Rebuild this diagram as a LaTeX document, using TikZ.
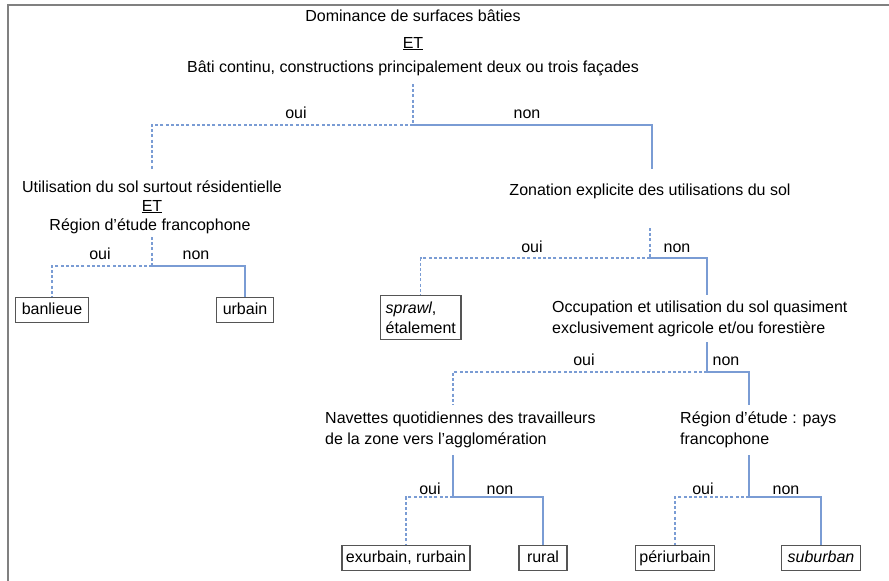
\documentclass[tikz,border=0pt]{standalone}
\usepackage{fontspec}
\setmainfont{Liberation Sans}
\definecolor{lineblue}{RGB}{122,156,212}
\definecolor{boxgray}{RGB}{85,85,85}
\definecolor{framegray}{RGB}{128,128,128}
\begin{document}
\begin{tikzpicture}[x=1pt,y=-1pt,
  lbl/.style={inner sep=0pt,anchor=base,font=\fontsize{16}{20}\selectfont},
  mlbl/.style={inner sep=0pt,anchor=north west,align=left,font=\fontsize{16}{21}\selectfont},
  yesline/.style={draw=lineblue,line width=1.2pt,dash pattern=on 3pt off 2.2pt},
  noline/.style={draw=lineblue,line width=1.2pt},
  leaf/.style={draw=boxgray,line width=1.3pt,inner xsep=6pt,inner ysep=5pt,
    text height=11.5pt,text depth=3.5pt,font=\fontsize{16}{20}\selectfont},
  leaf2/.style={draw=boxgray,line width=1.3pt,inner xsep=5pt,inner ysep=6pt,
    align=left,font=\fontsize{16}{20}\selectfont}]
\useasboundingbox (0,0) rectangle (889,581);
\draw[framegray,line width=2pt] (7.5,581) -- (7.5,5) -- (889,5);

% level 1
\node[lbl] (t1) at (413,21) {Dominance de surfaces bâties};
\node[lbl] (t2) at (413,48) {\underline{ET}};
\node[lbl] (t3) at (413,72) {Bâti continu, constructions principalement deux ou trois façades};
\coordinate (s1) at (413,84);
\coordinate (j1) at (413,125);
\node[lbl] (oui1) at (296,118) {oui};
\node[lbl] (non1) at (527,118) {non};
\coordinate (e1a) at (152,169);
\coordinate (e1b) at (652,169);
\draw[yesline] (s1) -- (j1);
\draw[yesline] (j1) -| (e1a);
\draw[noline] (j1) -| (e1b);

% left branch
\node[lbl] (t4) at (152,192) {Utilisation du sol surtout résidentielle};
\node[lbl] (t5) at (152,211) {\underline{ET}};
\node[lbl] (t6) at (150,230) {Région d’étude francophone};
\coordinate (s2) at (152,237);
\coordinate (j2) at (152,266);
\node[lbl] (oui2) at (100,259) {oui};
\node[lbl] (non2) at (196,259) {non};
\node[leaf] (banlieue) at (52,310) {banlieue};
\node[leaf] (urbain) at (245,310) {urbain};
\draw[yesline] (s2) -- (j2);
\draw[yesline] (j2) -| (banlieue.north);
\draw[noline] (j2) -| (urbain.north);

% right branch
\node[lbl] (t7) at (650,195) {Zonation explicite des utilisations du sol};
\coordinate (s3) at (650,228);
\coordinate (j3) at (650,258);
\node[lbl] (oui3) at (532,252) {oui};
\node[lbl] (non3) at (677,252) {non};
\node[leaf2,anchor=north west] (sprawl) at (380,295) {\textit{sprawl},\\étalement};
\coordinate (e3b) at (707,295);
\draw[yesline] (s3) -- (j3);
\draw[yesline] (j3) -| (sprawl.north);
\draw[noline] (j3) -| (e3b);

\node[mlbl] (t8) at (552,301) {Occupation et utilisation du sol quasiment\\exclusivement agricole et/ou forestière};
\coordinate (s4) at (707,342);
\coordinate (j4) at (707,372);
\node[lbl] (oui4) at (584,365) {oui};
\node[lbl] (non4) at (726,365) {non};
\coordinate (e4a) at (453,405);
\coordinate (e4b) at (749,405);
\draw[noline] (s4) -- (j4);
\draw[yesline] (j4) -| (e4a);
\draw[noline] (j4) -| (e4b);

% Navettes
\node[mlbl] (t9) at (325,412) {Navettes quotidiennes des travailleurs\\de la zone vers l’agglomération};
\coordinate (s5) at (453,455);
\coordinate (j5) at (453,497);
\node[lbl] (oui5) at (430,494) {oui};
\node[lbl] (non5) at (500,494) {non};
\node[leaf,inner xsep=4pt] (exurbain) at (406,558) {exurbain, rurbain};
\node[leaf,inner xsep=8pt] (rural) at (543,558) {rural};
\draw[noline] (s5) -- (j5);
\draw[yesline] (j5) -| (exurbain.north);
\draw[noline] (j5) -| (rural.north);

% Région d'étude : pays francophone
\node[mlbl] (t10) at (680,412) {Région d’étude : pays\\francophone};
\coordinate (s6) at (749,455);
\coordinate (j6) at (749,497);
\node[lbl] (oui6) at (703,494) {oui};
\node[lbl] (non6) at (786,494) {non};
\node[leaf,inner xsep=4pt] (periurbain) at (675,558) {périurbain};
\node[leaf] (suburban) at (821,558) {\textit{suburban}};
\draw[noline] (s6) -- (j6);
\draw[yesline] (j6) -| (periurbain.north);
\draw[noline] (j6) -| (suburban.north);
\end{tikzpicture}
\end{document}
